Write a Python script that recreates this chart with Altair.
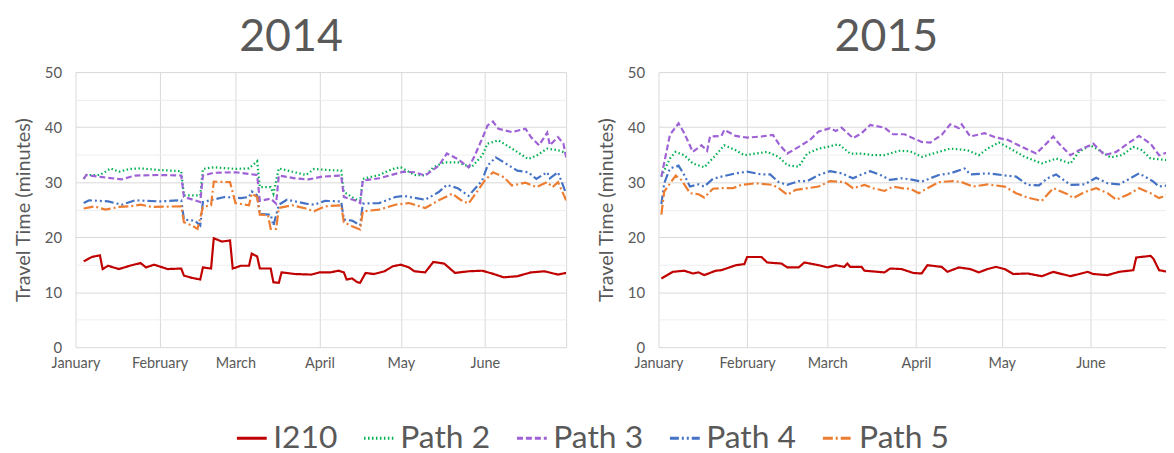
import altair as alt
import pandas as pd

SERIES = ["I210", "Path 2", "Path 3", "Path 4", "Path 5"]
COLORS = ["#C00000", "#00B050", "#9E62D6", "#4472C4", "#ED7D31"]
DASHES = [[1, 0], [1.5, 2.5], [6, 3], [9, 3, 2, 3, 2, 3], [10, 3, 2, 3]]
Y_TICKS = [0, 5, 10, 15, 20, 25, 30, 35, 40, 45, 50]

# ---- 2014 (day offsets from Jan 1) ----
I210_2014_DAYS = [3, 6, 9, 10, 12, 16, 20, 24, 26, 29, 34, 39, 40, 43, 46, 47, 50, 51, 54, 57, 58, 61, 64, 65, 67, 68, 72, 73, 75, 76, 81, 87, 90, 94, 97, 99, 100, 102, 104, 105, 107, 110, 114, 117, 120, 123, 125, 129, 132, 136, 140, 145, 150, 153, 158, 163, 168, 173, 178, 181]
I210_2014_VALS = [15.6, 16.4, 16.7, 14.2, 14.8, 14.2, 14.8, 15.3, 14.5, 15.0, 14.2, 14.3, 13.0, 12.6, 12.3, 14.5, 14.3, 19.8, 19.2, 19.4, 14.3, 14.8, 14.8, 17.0, 16.5, 14.3, 14.3, 11.8, 11.7, 13.6, 13.3, 13.2, 13.6, 13.6, 13.9, 13.6, 12.3, 12.5, 11.8, 11.7, 13.5, 13.3, 13.8, 14.7, 15.0, 14.5, 13.8, 13.6, 15.5, 15.2, 13.5, 13.8, 13.9, 13.5, 12.7, 12.9, 13.6, 13.8, 13.2, 13.5]

P2_2014_DAYS = [3, 4, 9, 13, 16, 20, 24, 31, 39, 40, 46, 47, 51, 59, 64, 67, 68, 72, 73, 75, 80, 85, 88, 93, 98, 99, 103, 105, 106, 112, 117, 120, 125, 129, 132, 136, 141, 146, 150, 152, 156, 161, 167, 170, 174, 178, 181]
P2_2014_VALS = [30.6, 31.3, 31.3, 32.5, 31.9, 32.4, 32.5, 32.2, 32.0, 27.6, 27.6, 32.4, 32.7, 32.4, 32.5, 33.8, 29.1, 29.1, 27.9, 32.5, 31.9, 31.3, 32.4, 32.2, 32.1, 28.2, 27.0, 26.5, 30.6, 31.3, 32.4, 32.7, 31.3, 31.2, 32.7, 33.6, 33.6, 32.7, 34.8, 37.0, 37.6, 36.1, 34.2, 34.8, 36.1, 35.8, 35.3]

P3_2014_DAYS = [3, 4, 10, 17, 22, 31, 39, 40, 46, 47, 51, 59, 67, 68, 72, 74, 75, 81, 86, 91, 98, 99, 103, 105, 106, 112, 118, 121, 125, 129, 134, 137, 141, 145, 147, 150, 152, 154, 156, 161, 166, 168, 171, 174, 175, 178, 180, 181]
P3_2014_VALS = [30.6, 31.3, 30.9, 30.5, 31.2, 31.3, 31.2, 27.3, 26.4, 31.2, 31.7, 31.8, 31.3, 26.6, 27.0, 26.1, 31.2, 30.7, 30.5, 31.0, 31.2, 27.3, 26.7, 26.2, 30.3, 30.7, 31.5, 31.9, 31.8, 31.2, 33.0, 35.2, 34.2, 32.7, 34.5, 37.9, 40.3, 41.0, 39.7, 39.1, 39.7, 38.2, 36.7, 39.0, 36.7, 38.2, 37.0, 34.5]

P4_2014_DAYS = [3, 5, 12, 17, 22, 31, 39, 40, 44, 46, 47, 55, 61, 64, 65, 67, 68, 72, 73, 75, 78, 85, 88, 92, 98, 99, 102, 105, 106, 112, 118, 121, 129, 134, 137, 141, 145, 150, 152, 155, 158, 163, 167, 170, 174, 175, 178, 181]
P4_2014_VALS = [26.2, 26.7, 26.5, 25.9, 26.7, 26.5, 26.7, 23.2, 23.0, 22.1, 26.4, 27.3, 27.1, 27.3, 28.3, 27.6, 24.2, 24.1, 22.1, 25.9, 26.8, 26.1, 25.9, 26.6, 26.5, 23.2, 23.0, 22.2, 26.1, 26.2, 27.3, 27.5, 26.8, 28.2, 29.5, 28.9, 27.5, 30.3, 33.0, 34.5, 33.6, 32.1, 31.8, 30.6, 31.8, 30.7, 31.8, 27.9]

P5_2014_DAYS = [3, 7, 11, 16, 20, 24, 28, 39, 40, 43, 45, 47, 50, 51, 57, 59, 64, 65, 67, 68, 71, 72, 74, 75, 80, 85, 88, 92, 98, 99, 102, 105, 106, 112, 118, 123, 129, 134, 139, 142, 145, 148, 151, 154, 158, 161, 166, 170, 174, 176, 178, 181]
P5_2014_VALS = [25.2, 25.6, 25.0, 25.5, 25.6, 25.9, 25.5, 25.6, 22.7, 22.1, 21.5, 25.5, 25.8, 30.1, 30.0, 26.2, 25.8, 27.9, 27.3, 24.1, 24.0, 21.5, 21.5, 25.3, 25.8, 25.2, 24.7, 25.6, 25.8, 22.7, 22.0, 21.4, 24.7, 25.0, 25.9, 26.2, 25.3, 26.7, 27.9, 26.8, 26.1, 28.2, 30.3, 31.8, 30.9, 29.4, 29.9, 29.1, 30.0, 29.1, 30.0, 26.7]

# ---- 2015 (day offsets from Jan 1) ----
I210_2015_DAYS = [1, 5, 9, 12, 14, 16, 20, 22, 27, 30, 31, 36, 38, 43, 45, 49, 51, 56, 59, 62, 65, 66, 67, 71, 72, 79, 81, 85, 89, 92, 94, 99, 101, 105, 109, 112, 115, 118, 121, 124, 129, 134, 138, 144, 150, 152, 157, 161, 166, 167, 172, 173, 175, 178]
I210_2015_VALS = [12.5, 13.7, 13.9, 13.4, 13.6, 13.1, 13.9, 14.0, 14.9, 15.1, 16.4, 16.4, 15.4, 15.2, 14.5, 14.5, 15.4, 14.9, 14.5, 14.9, 14.6, 15.2, 14.6, 14.6, 13.9, 13.6, 14.3, 14.2, 13.5, 13.4, 14.9, 14.6, 13.7, 14.5, 14.2, 13.6, 14.2, 14.6, 14.2, 13.3, 13.4, 12.9, 13.7, 12.9, 13.7, 13.3, 13.1, 13.7, 14.0, 16.3, 16.6, 16.1, 14.0, 13.7]

P2_2015_DAYS = [1, 4, 6, 9, 12, 16, 20, 23, 27, 30, 34, 38, 42, 45, 49, 52, 56, 59, 63, 67, 71, 75, 79, 84, 88, 92, 98, 102, 108, 112, 115, 119, 123, 128, 134, 139, 144, 147, 151, 154, 158, 162, 166, 169, 172, 178]
P2_2015_VALS = [31.0, 34.3, 35.5, 34.9, 33.4, 32.7, 34.9, 36.7, 35.8, 34.9, 35.2, 35.5, 34.6, 33.1, 32.8, 35.2, 36.1, 36.4, 36.9, 35.2, 35.2, 34.9, 34.9, 35.7, 35.6, 34.6, 35.5, 36.1, 35.8, 34.9, 36.1, 37.2, 36.1, 34.6, 33.4, 34.3, 33.4, 35.5, 36.7, 35.8, 34.5, 34.9, 36.4, 35.8, 34.3, 34.0]

P3_2015_DAYS = [1, 4, 7, 9, 12, 15, 17, 18, 22, 23, 27, 31, 36, 40, 42, 45, 49, 53, 56, 60, 62, 64, 68, 71, 74, 79, 82, 86, 92, 95, 99, 102, 105, 106, 109, 114, 118, 122, 127, 132, 135, 138, 140, 144, 147, 152, 156, 160, 164, 168, 172, 175, 178]
P3_2015_VALS = [31.0, 38.6, 40.7, 38.9, 35.5, 36.7, 35.7, 38.3, 38.4, 39.5, 38.4, 38.1, 38.3, 38.6, 37.0, 35.2, 36.4, 37.7, 39.2, 39.8, 39.3, 39.9, 38.0, 38.9, 40.4, 39.9, 38.7, 38.7, 37.3, 37.2, 38.6, 40.5, 39.8, 40.5, 38.3, 38.9, 38.1, 37.7, 36.4, 35.2, 36.7, 38.3, 37.0, 34.9, 35.8, 37.0, 34.9, 35.5, 37.0, 38.4, 37.0, 34.9, 35.4]

P4_2015_DAYS = [1, 2, 4, 7, 9, 11, 14, 16, 19, 22, 27, 31, 36, 39, 42, 45, 49, 52, 56, 60, 64, 68, 71, 74, 78, 81, 85, 88, 92, 98, 102, 107, 109, 115, 120, 125, 129, 133, 136, 139, 144, 149, 153, 157, 161, 165, 168, 173, 175, 178]
P4_2015_VALS = [26.0, 29.8, 32.5, 33.0, 31.3, 29.2, 29.6, 29.2, 30.6, 31.0, 31.6, 31.9, 31.4, 31.4, 30.0, 29.5, 30.2, 30.2, 31.3, 32.0, 31.6, 30.7, 31.4, 32.0, 31.2, 30.4, 30.7, 30.5, 30.1, 31.3, 31.6, 32.5, 31.4, 31.6, 31.3, 31.0, 29.5, 29.4, 30.7, 31.4, 29.5, 29.6, 30.8, 29.8, 29.6, 30.7, 31.6, 30.1, 29.2, 29.4]

P5_2015_DAYS = [1, 2, 6, 8, 11, 14, 16, 19, 22, 26, 29, 34, 40, 42, 45, 48, 52, 56, 60, 65, 68, 72, 75, 79, 82, 85, 88, 91, 94, 98, 103, 106, 110, 115, 121, 125, 129, 134, 138, 143, 145, 149, 153, 157, 160, 164, 168, 172, 175, 178]
P5_2015_VALS = [24.1, 28.3, 31.2, 30.4, 28.0, 27.8, 27.2, 28.8, 28.9, 28.9, 29.5, 29.8, 29.5, 28.9, 27.7, 28.6, 28.9, 29.2, 30.2, 30.0, 28.9, 29.5, 28.9, 28.4, 29.2, 28.9, 28.8, 28.0, 28.9, 30.0, 30.2, 30.0, 29.2, 29.6, 29.2, 28.0, 27.2, 26.6, 28.9, 27.8, 27.1, 28.2, 28.9, 28.0, 26.8, 27.7, 28.9, 28.0, 27.1, 27.7]

TABLE_2014 = [
    ("I210", I210_2014_DAYS, I210_2014_VALS),
    ("Path 2", P2_2014_DAYS, P2_2014_VALS),
    ("Path 3", P3_2014_DAYS, P3_2014_VALS),
    ("Path 4", P4_2014_DAYS, P4_2014_VALS),
    ("Path 5", P5_2014_DAYS, P5_2014_VALS),
]
TABLE_2015 = [
    ("I210", I210_2015_DAYS, I210_2015_VALS),
    ("Path 2", P2_2015_DAYS, P2_2015_VALS),
    ("Path 3", P3_2015_DAYS, P3_2015_VALS),
    ("Path 4", P4_2015_DAYS, P4_2015_VALS),
    ("Path 5", P5_2015_DAYS, P5_2015_VALS),
]


def build(year, table):
    rows = []
    start = pd.Timestamp(f"{year}-01-01")
    for name, days, vals in table:
        for d, v in zip(days, vals):
            ts = start + pd.Timedelta(days=d)
            rows.append({"date": ts.strftime("%Y-%m-%dT00:00:00"), "value": v, "series": name})
    return pd.DataFrame(rows)


FONT = "Lato"
GRAY = "#595959"


def panel(year, table, end, width, tick_months, title_dx, show_legend):
    df = build(year, table)
    tick_vals = [alt.DateTime(year=year, month=m, date=1) for m in tick_months]
    if show_legend:
        leg = alt.Legend(
            orient="none", legendX=161, legendY=352, direction="horizontal", title=None,
            labelFont=FONT, labelFontSize=32, labelColor=GRAY, symbolType="stroke",
            symbolSize=900, symbolStrokeWidth=3, columnPadding=20, labelOffset=5, padding=0,
        )
    else:
        leg = None
    return alt.Chart(df).mark_line(strokeWidth=2.2, clip=True).encode(
        x=alt.X(
            "date:T",
            scale=alt.Scale(domain=[alt.DateTime(year=year, month=1, date=1), end]),
            axis=alt.Axis(
                values=tick_vals, format="%B", title=None,
                labelExpr="month(datum.value) == 6 ? '' : datum.label",
                grid=True, gridColor="#d9d9d9", ticks=False, tickSize=0, domain=False,
                labelFont=FONT, labelFontSize=14.5, labelColor=GRAY, labelPadding=9,
                labelFlush=False, labelOverlap=False,
            ),
        ),
        y=alt.Y(
            "value:Q",
            scale=alt.Scale(domain=[0, 50], nice=False),
            axis=alt.Axis(
                values=Y_TICKS, title="Travel Time (minutes)",
                labelExpr="datum.value % 10 == 0 ? datum.label : ''",
                gridColor={"condition": {"test": "datum.value % 10 == 0", "value": "#d9d9d9"}, "value": "#eeeeee"},
                ticks=False, tickSize=0, domain=False,
                labelFont=FONT, labelFontSize=15, labelColor=GRAY, labelPadding=14,
                titleFont=FONT, titleFontSize=20, titleFontWeight="normal", titleColor=GRAY,
                titlePadding=11,
            ),
        ),
        color=alt.Color("series:N", scale=alt.Scale(domain=SERIES, range=COLORS), legend=leg),
        strokeDash=alt.StrokeDash("series:N", scale=alt.Scale(domain=SERIES, range=DASHES), legend=leg),
    ).properties(
        width=width, height=277,
        title=alt.Title(str(year), font=FONT, fontSize=45, fontWeight="normal", color=GRAY,
                        frame="group", anchor="middle", offset=5, dx=title_dx),
    )


left = panel(2014, TABLE_2014, alt.DateTime(year=2014, month=7, date=1), 494,
             [1, 2, 3, 4, 5, 6, 7], -30, True)
right = panel(2015, TABLE_2015, alt.DateTime(year=2015, month=6, date=27, hours=10), 511,
              [1, 2, 3, 4, 5, 6], -26, False)

chart = alt.hconcat(left, right, spacing=93, bounds="flush").properties(
    padding={"left": 5, "top": 6, "right": 0, "bottom": 0},
    background="white",
).resolve_legend(color="independent", strokeDash="independent").configure_view(stroke=None)

chart.save("out.html", embed_options={"renderer": "svg", "actions": False})
